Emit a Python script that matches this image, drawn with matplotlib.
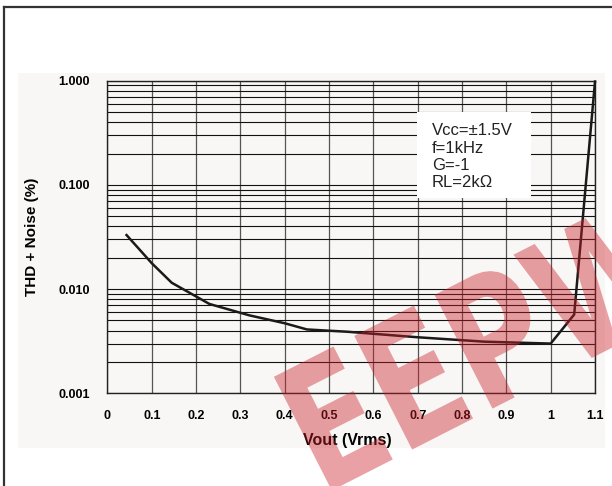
import matplotlib
matplotlib.use("Agg")
import matplotlib.pyplot as plt
from matplotlib.patches import Rectangle, PathPatch
from matplotlib.textpath import TextPath
from matplotlib.font_manager import FontProperties
from matplotlib.transforms import Affine2D, IdentityTransform

plt.rcParams["font.family"] = ["Liberation Sans", "DejaVu Sans"]

# THD+N vs output level
vout = [0.043, 0.10, 0.145, 0.23, 0.32, 0.40, 0.45, 0.54, 0.70, 0.85, 1.00, 1.053, 1.10]
thd = [0.033, 0.0177, 0.0115, 0.0072, 0.0056, 0.0047, 0.0041, 0.0039, 0.00345, 0.00313, 0.0030, 0.0057, 0.98]

xticks = [0, 0.1, 0.2, 0.3, 0.4, 0.5, 0.6, 0.7, 0.8, 0.9, 1.0, 1.1]
xlabels = ["0", "0.1", "0.2", "0.3", "0.4", "0.5", "0.6", "0.7", "0.8", "0.9", "1", "1.1"]
yticks = [0.001, 0.01, 0.1, 1.0]
ylabels = ["0.001", "0.010", "0.100", "1.000"]
conditions = ["Vcc=\u00b11.5V", "f=1kHz", "G=-1", "RL=2k\u03a9"]

PANEL = "#f8f7f5"
W, H = 612, 486

fig = plt.figure(figsize=(W / 100, H / 100), dpi=100)
fig.patch.set_facecolor("white")

# light grey panel behind the plot, and the page frame (left + top)
fig.patches.append(Rectangle((18 / W, 1 - 448 / H), (605 - 18) / W, (448 - 73) / H,
                             transform=fig.transFigure, fc=PANEL, ec="none", zorder=-5))
fig.add_artist(plt.Line2D([4 / W, 4 / W], [0, 1 - 7 / H], color="#333333", lw=1.6))
fig.add_artist(plt.Line2D([4 / W, 1], [1 - 7 / H, 1 - 7 / H], color="#333333", lw=1.6))

ax = fig.add_axes([107.5 / W, 1 - 393.3 / H, 487.5 / W, 312.6 / H])
ax.set_facecolor(PANEL)
ax.set_yscale("log")
ax.set_xlim(0, 1.1)
ax.set_ylim(0.001, 1.0)

ax.set_xticks(xticks)
ax.set_xticklabels(xlabels, fontsize=9, fontweight="bold")
ax.set_yticks(yticks)
ax.set_yticklabels(ylabels, fontsize=9, fontweight="bold")
ax.tick_params(axis="both", which="both", length=0)
ax.tick_params(axis="x", pad=12)
ax.tick_params(axis="y", pad=12.5)

ax.grid(True, axis="x", which="major", color="#555555", lw=0.9)
ax.grid(True, axis="y", which="both", color="#111111", lw=0.8)
for s in ax.spines.values():
    s.set_color("#222222")
    s.set_linewidth(1.0)

ax.plot(vout, thd, color="#1a1a1a", lw=1.8, zorder=5, clip_on=False)

# conditions box
ax.add_patch(Rectangle((0.635, 0.625), 0.234, 0.275, transform=ax.transAxes,
                       fc="white", ec="none", zorder=3))
for i, t in enumerate(conditions):
    ax.text(0.665, 0.826 - i * 0.0557, t, transform=ax.transAxes, fontsize=12,
            ha="left", va="baseline", color="#222222", zorder=4)

fig.text(32 / W, 1 - 236.5 / H, "THD + Noise (%)", rotation=90, ha="center", va="center",
         fontsize=11, fontweight="bold")
fig.text(347 / W, 1 - 440 / H, "Vout (Vrms)", ha="center", va="center",
         fontsize=11.5, fontweight="bold")

# translucent watermark
tp = TextPath((0, 0), "EEPW", size=1, prop=FontProperties(family="DejaVu Sans", weight="bold"))
tr = Affine2D().scale(132, 175).rotate_deg(27).translate(321, -10)
wm = PathPatch(tr.transform_path(tp), transform=IdentityTransform(),
               fc=(0.80, 0.12, 0.16), ec="none", alpha=0.42, zorder=20)
fig.patches.append(wm)

fig.savefig("out.png", dpi=100)
